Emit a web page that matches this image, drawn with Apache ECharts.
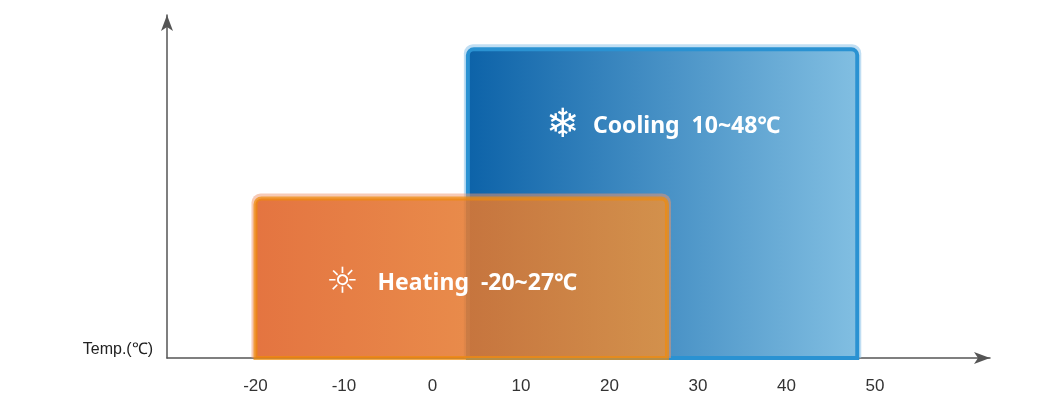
<!DOCTYPE html>
<html><head><meta charset="utf-8">
<script src="https://cdn.jsdelivr.net/npm/echarts@6/dist/echarts.min.js"></script>
<style>html,body{margin:0;padding:0;background:#fff}#c{width:1060px;height:410px}</style>
</head><body><div id="c"></div>
<script>
const modes = ['Heating', 'Cooling'];
const rangeStart = [-20, 4];
const rangeEnd = [26.5, 48];
const boxTop = [46.5, 90];
const labels = ['Heating  -20~27℃', 'Cooling  10~48℃'];
const icons = ['☼', '❄'];
const tickLabels = ['-20','-10','0','10','20','30','40','50'];

const styles = [
  {c0:'#dc5212', c1:'#e8902e', glow:'rgba(240,150,110,0.5)', edge:'#ee8a0c', op:0.72, iconDx:87, textDx:122, dy:85, iconSize:36},
  {c0:'#0c62a8', c1:'#82bfe2', glow:'rgba(150,200,235,0.6)', edge:'#2a92d2', op:1, iconDx:95, textDx:125, dy:77, iconSize:40}
];
const order = [1, 0];
const chart = echarts.init(document.getElementById('c'));
chart.setOption({
  animation:false,
  grid:{left:167, right:70, top:15, bottom:52},
  xAxis:{type:'value', min:-30, max:63, interval:10,
    name:'Temp.(℃)', nameLocation:'start', nameGap:14,
    nameTextStyle:{color:'#222', fontSize:16, fontFamily:'Liberation Sans', verticalAlign:'bottom'},
    axisLine:{show:true, symbol:['none','arrow'], symbolSize:[9,16], lineStyle:{color:'#555', width:1.5}},
    axisTick:{show:false}, splitLine:{show:false},
    axisLabel:{color:'#333', fontSize:17, fontFamily:'Liberation Sans Narrow, Liberation Sans', margin:20,
      formatter:v=>tickLabels.includes(String(v))?String(v):''}},
  yAxis:{type:'value', min:0, max:100,
    axisLine:{show:true, onZero:false, symbol:['none','arrow'], symbolSize:[9,16], lineStyle:{color:'#555', width:1.5}},
    axisTick:{show:false}, splitLine:{show:false}, axisLabel:{show:false}},
  series:[{
    type:'custom',
    data: order.map(i=>[rangeStart[i], rangeEnd[i], boxTop[i], i]),
    renderItem:(params, api)=>{
      const i = api.value(3), s = styles[i];
      const p0 = api.coord([api.value(0), api.value(2)]);
      const p1 = api.coord([api.value(1), 0]);
      const x=p0[0], y=p0[1], w=p1[0]-p0[0], h=p1[1]-p0[1];
      const cy = y + s.dy;
      return {type:'group', children:[
        {type:'rect', shape:{x:x-4,y:y-5,width:w+8,height:h+5,r:[9,9,0,0]}, style:{fill:s.glow}},
        {type:'rect', shape:{x:x,y:y,width:w,height:h,r:[6,6,0,0]}, style:{opacity:s.op,
          fill:new echarts.graphic.LinearGradient(0,0,1,0,[{offset:0,color:s.c0},{offset:1,color:s.c1}]),
          stroke:s.edge, lineWidth:4}},
        {type:'text', x:x+s.iconDx, y:cy, style:{text:icons[i], fill:'#fff', fontSize:s.iconSize, fontWeight:'bold', align:'center', verticalAlign:'middle', fontFamily:'DejaVu Sans'}},
        {type:'text', x:x+s.textDx, y:cy, style:{text:labels[i], fill:'#fff', fontSize:23, fontWeight:'bold', align:'left', verticalAlign:'middle', fontFamily:'Liberation Sans Narrow, Noto Sans'}}
      ]};
    }
  }]
});
</script></body></html>
